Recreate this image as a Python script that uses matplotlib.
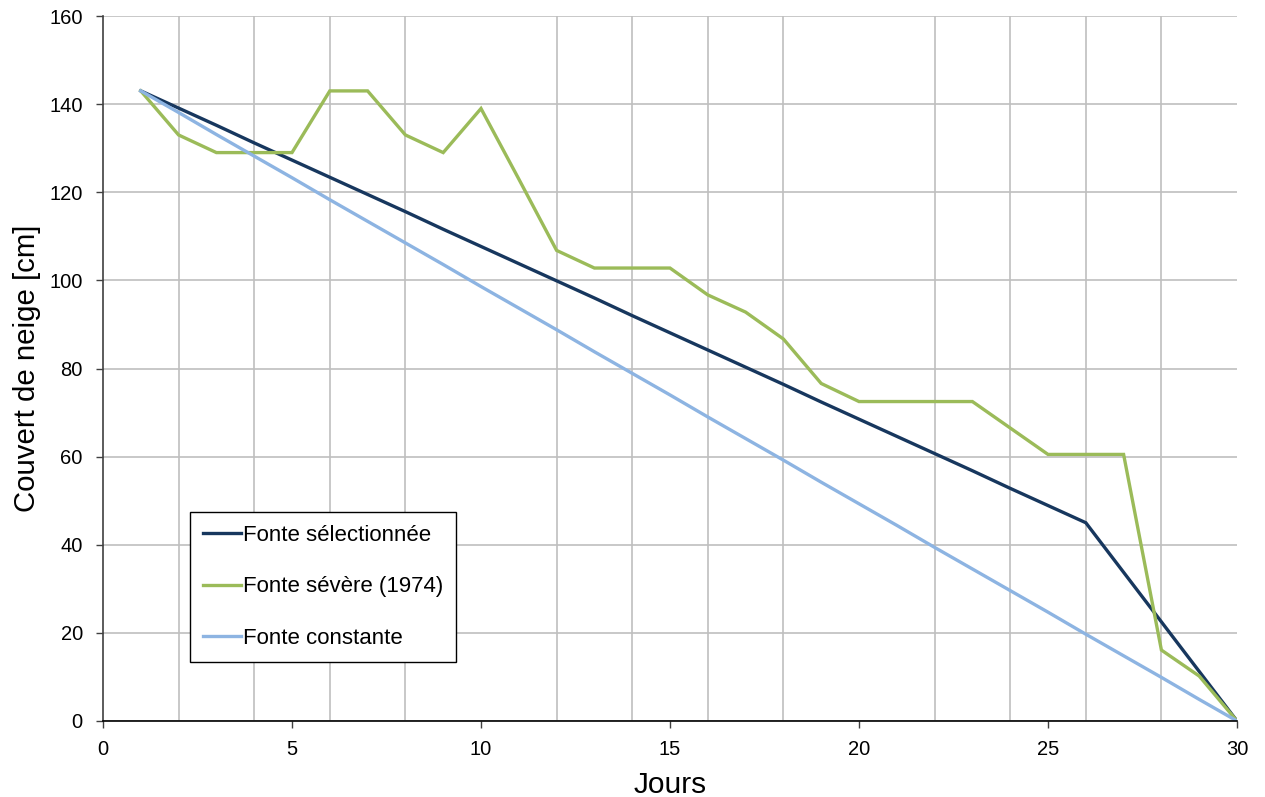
import matplotlib
matplotlib.use("Agg")
import matplotlib.pyplot as plt
from matplotlib.ticker import MultipleLocator

plt.rcParams['font.family'] = ['Liberation Sans', 'DejaVu Sans']

# Snow cover (cm) per day
days = list(range(1, 31))
fonte_selectionnee = [143.0, 139.1, 135.2, 131.2, 127.3, 123.4, 119.5, 115.6, 111.6, 107.7,
                      103.8, 99.9, 96.0, 92.0, 88.1, 84.2, 80.3, 76.4, 72.4, 68.5,
                      64.6, 60.7, 56.8, 52.8, 48.9, 45.0, 33.75, 22.5, 11.25, 0.0]
fonte_severe_1974 = [143.0, 133.0, 129.0, 129.0, 129.0, 143.0, 143.0, 133.0, 129.0, 139.0,
                     123.0, 106.8, 102.8, 102.8, 102.8, 96.7, 92.8, 86.7, 76.6, 72.5,
                     72.5, 72.5, 72.5, 66.5, 60.5, 60.5, 60.5, 16.1, 10.2, 0.0]
fonte_constante = [143.0, 138.1, 133.1, 128.2, 123.3, 118.3, 113.4, 108.5, 103.6, 98.6,
                   93.7, 88.8, 83.8, 78.9, 74.0, 69.0, 64.1, 59.2, 54.2, 49.3,
                   44.4, 39.4, 34.5, 29.6, 24.7, 19.7, 14.8, 9.9, 4.9, 0.0]

labels = ["Fonte sélectionnée", "Fonte sévère (1974)", "Fonte constante"]
colors = ["#17375E", "#9BBB59", "#8DB4E2"]

fig = plt.figure(figsize=(12.65, 7.97), dpi=100)
ax = fig.add_axes([103 / 1265, 1 - 721 / 797, (1237 - 103) / 1265, (721 - 16) / 797])

for series, lab, col in zip([fonte_selectionnee, fonte_severe_1974, fonte_constante], labels, colors):
    ax.plot(days, series, color=col, lw=2.4, label=lab, solid_joinstyle='miter', zorder=3)

ax.set_xlim(0, 30)
ax.set_ylim(0, 160)
ax.xaxis.set_major_locator(MultipleLocator(5))
ax.xaxis.set_minor_locator(MultipleLocator(2))
ax.yaxis.set_major_locator(MultipleLocator(20))

ax.grid(False)
ax.grid(True, which='minor', axis='x', color='#BFBFBF', lw=1.2, zorder=0)
ax.grid(True, which='major', axis='y', color='#BFBFBF', lw=1.2, zorder=0)
ax.set_axisbelow(True)

ax.tick_params(axis='both', which='major', direction='out', length=5, width=1,
               color='#404040', labelsize=14.5)
ax.tick_params(axis='y', which='major', pad=9.5)
ax.tick_params(axis='x', which='major', pad=9)
ax.tick_params(axis='x', which='minor', length=0)

for side in ['top', 'right']:
    ax.spines[side].set_visible(False)
ax.spines['left'].set_color('#404040')
ax.spines['bottom'].set_color('#000000')
for side in ['left', 'bottom']:
    ax.spines[side].set_linewidth(1.2)
    ax.spines[side].set_zorder(4)

ax.set_xlabel("Jours", fontsize=21.5, labelpad=8)
ax.set_ylabel("Couvert de neige [cm]", fontsize=21.2, labelpad=6)

leg = ax.legend(loc='lower left', bbox_to_anchor=((190 - 103) / 1134, (721 - 662) / 705),
                borderaxespad=0, fontsize=16, frameon=True, fancybox=False,
                handlelength=1.7, handletextpad=0.08, labelspacing=1.36,
                borderpad=0.6, edgecolor='black')
leg.get_frame().set_linewidth(1.0)
leg.get_frame().set_alpha(None)
leg.get_frame().set_facecolor('white')

fig.savefig("out.png", dpi=100)
